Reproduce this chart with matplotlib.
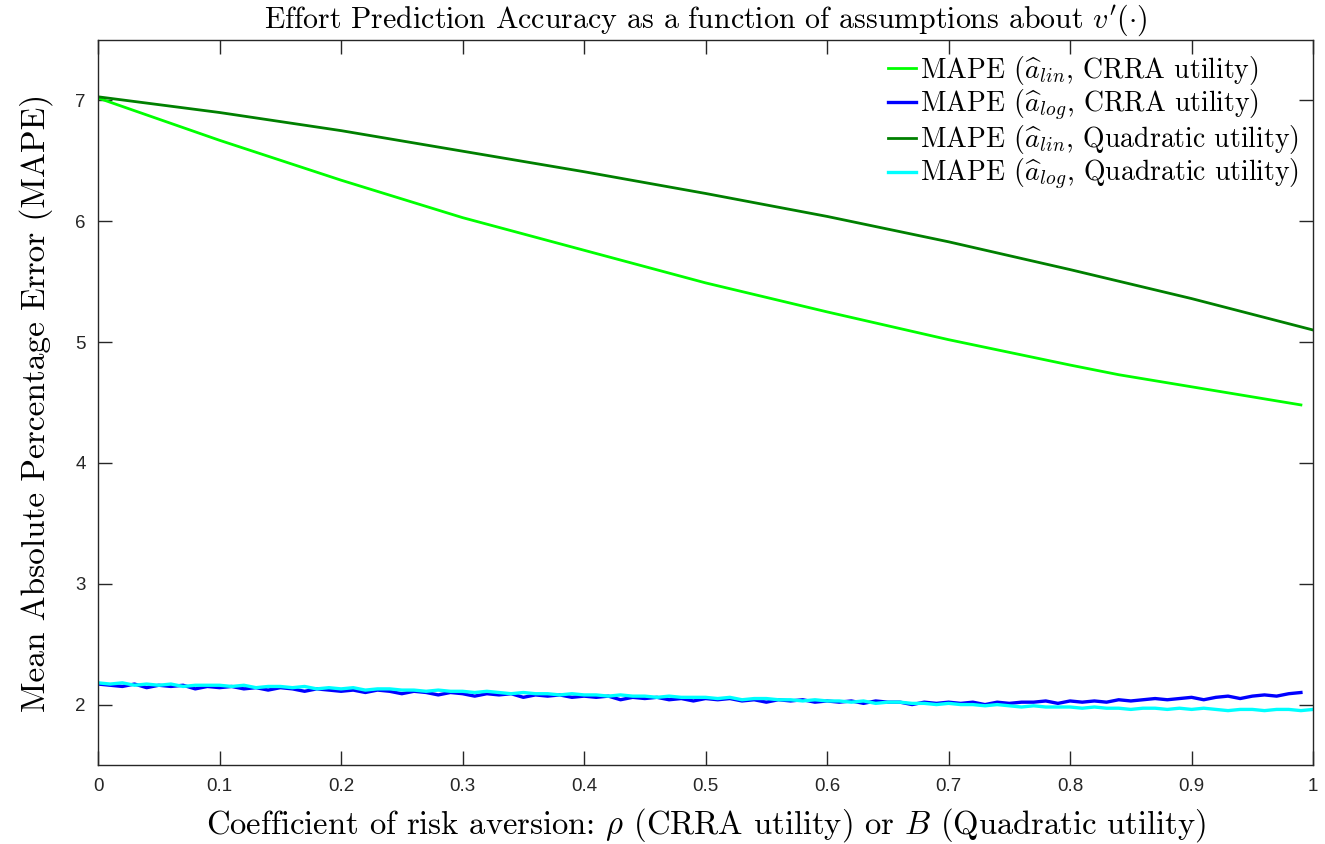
import numpy as np
import matplotlib
matplotlib.use("Agg")
from matplotlib import pyplot as plt

# risk aversion grid
rho = np.round(np.arange(0, 100) * 0.01, 2)      # CRRA runs 0 .. 0.99
B = np.round(np.arange(0, 101) * 0.01, 2)        # quadratic runs 0 .. 1

# MAPE, linear effort estimate, CRRA utility
rho_coarse = [0.0, 0.1, 0.2, 0.3, 0.4, 0.5, 0.6, 0.7, 0.8, 0.84, 0.9, 0.99]
mape_lin_crra = [7.02, 6.67, 6.34, 6.03, 5.76, 5.49, 5.25, 5.02, 4.81, 4.73, 4.63, 4.48]

# MAPE, linear effort estimate, quadratic utility
B_coarse = [0.0, 0.1, 0.2, 0.3, 0.4, 0.5, 0.6, 0.7, 0.8, 0.9, 1.0]
mape_lin_quad = [7.03, 6.90, 6.75, 6.58, 6.41, 6.23, 6.04, 5.83, 5.60, 5.36, 5.10]

# MAPE, log effort estimate, CRRA utility
mape_log_crra = [
    2.17, 2.16, 2.15, 2.17, 2.14, 2.16, 2.15, 2.16, 2.13, 2.15,
    2.14, 2.15, 2.13, 2.14, 2.12, 2.14, 2.13, 2.11, 2.13, 2.12,
    2.11, 2.12, 2.10, 2.12, 2.11, 2.09, 2.11, 2.10, 2.08, 2.10,
    2.09, 2.07, 2.09, 2.08, 2.09, 2.06, 2.08, 2.07, 2.08, 2.06,
    2.07, 2.06, 2.07, 2.04, 2.06, 2.05, 2.06, 2.04, 2.05, 2.03,
    2.05, 2.04, 2.05, 2.03, 2.04, 2.02, 2.04, 2.03, 2.04, 2.02,
    2.03, 2.02, 2.03, 2.01, 2.03, 2.02, 2.02, 2.00, 2.02, 2.01,
    2.02, 2.01, 2.02, 2.00, 2.02, 2.01, 2.02, 2.02, 2.03, 2.01,
    2.03, 2.02, 2.03, 2.02, 2.04, 2.03, 2.04, 2.05, 2.04, 2.05,
    2.06, 2.04, 2.06, 2.07, 2.05, 2.07, 2.08, 2.07, 2.09, 2.10,
]

# MAPE, log effort estimate, quadratic utility
mape_log_quad = [
    2.18, 2.17, 2.18, 2.16, 2.17, 2.16, 2.17, 2.15, 2.16, 2.16,
    2.16, 2.15, 2.16, 2.14, 2.15, 2.15, 2.14, 2.15, 2.13, 2.14,
    2.13, 2.14, 2.12, 2.13, 2.13, 2.12, 2.12, 2.11, 2.12, 2.11,
    2.11, 2.10, 2.11, 2.10, 2.09, 2.10, 2.09, 2.09, 2.08, 2.09,
    2.08, 2.08, 2.07, 2.08, 2.07, 2.07, 2.06, 2.07, 2.06, 2.06,
    2.06, 2.05, 2.06, 2.04, 2.05, 2.05, 2.04, 2.04, 2.03, 2.04,
    2.03, 2.03, 2.02, 2.03, 2.01, 2.02, 2.02, 2.01, 2.01, 2.00,
    2.01, 2.00, 2.00, 1.99, 2.00, 1.99, 1.98, 1.99, 1.98, 1.98,
    1.98, 1.97, 1.98, 1.97, 1.97, 1.96, 1.97, 1.97, 1.96, 1.97,
    1.96, 1.97, 1.96, 1.95, 1.96, 1.96, 1.95, 1.96, 1.96, 1.95,
    1.96,
]

labels = [
    r'MAPE ($\widehat{a}_{lin}$, CRRA utility)',
    r'MAPE ($\widehat{a}_{log}$, CRRA utility)',
    r'MAPE ($\widehat{a}_{lin}$, Quadratic utility)',
    r'MAPE ($\widehat{a}_{log}$, Quadratic utility)',
]

plt.rcParams['mathtext.fontset'] = 'cm'
plt.rcParams['axes.unicode_minus'] = False
serif = 'cmr10'

fig = plt.figure(figsize=(13.25, 8.44), dpi=100)
ax = fig.add_axes([0.074, 0.0936, 0.917, 0.859])

ax.plot(rho_coarse, mape_lin_crra, color='#00ff00', lw=2, label=labels[0])
ax.plot(rho, mape_log_crra, color='#0000ff', lw=2.4, label=labels[1])
ax.plot(B_coarse, mape_lin_quad, color='#008000', lw=2, label=labels[2])
ax.plot(B, mape_log_quad, color='#00ffff', lw=2.4, label=labels[3])

ax.set_xlim(0, 1)
ax.set_ylim(1.5, 7.5)
ax.set_xticks(np.arange(0, 1.01, 0.1))
ax.set_xticklabels(['0', '0.1', '0.2', '0.3', '0.4', '0.5', '0.6', '0.7', '0.8', '0.9', '1'])
ax.set_yticks([2, 3, 4, 5, 6, 7])
ax.tick_params(direction='in', length=10, width=1, colors='#262626', top=True, right=True,
               labelsize=13.5, pad=9)
for lab in ax.get_xticklabels() + ax.get_yticklabels():
    lab.set_family('Liberation Sans')
for sp in ax.spines.values():
    sp.set_color('#262626')
    sp.set_linewidth(1)

ax.set_title(r"Effort Prediction Accuracy as a function of assumptions about $v'(\cdot)$",
             family=serif, fontsize=21.5, pad=9)
ax.set_xlabel(r'Coefficient of risk aversion: $\rho$ (CRRA utility) or $B$ (Quadratic utility)',
              family=serif, fontsize=23.5, labelpad=8)
ax.set_ylabel('Mean Absolute Percentage Error (MAPE)', family=serif, fontsize=24, labelpad=16)

leg = ax.legend(loc='upper right', frameon=False, prop={'family': serif, 'size': 20},
                handlelength=1.0, handletextpad=0.15, labelspacing=0.02,
                borderaxespad=0.1)

fig.savefig('out.png', dpi=100)
